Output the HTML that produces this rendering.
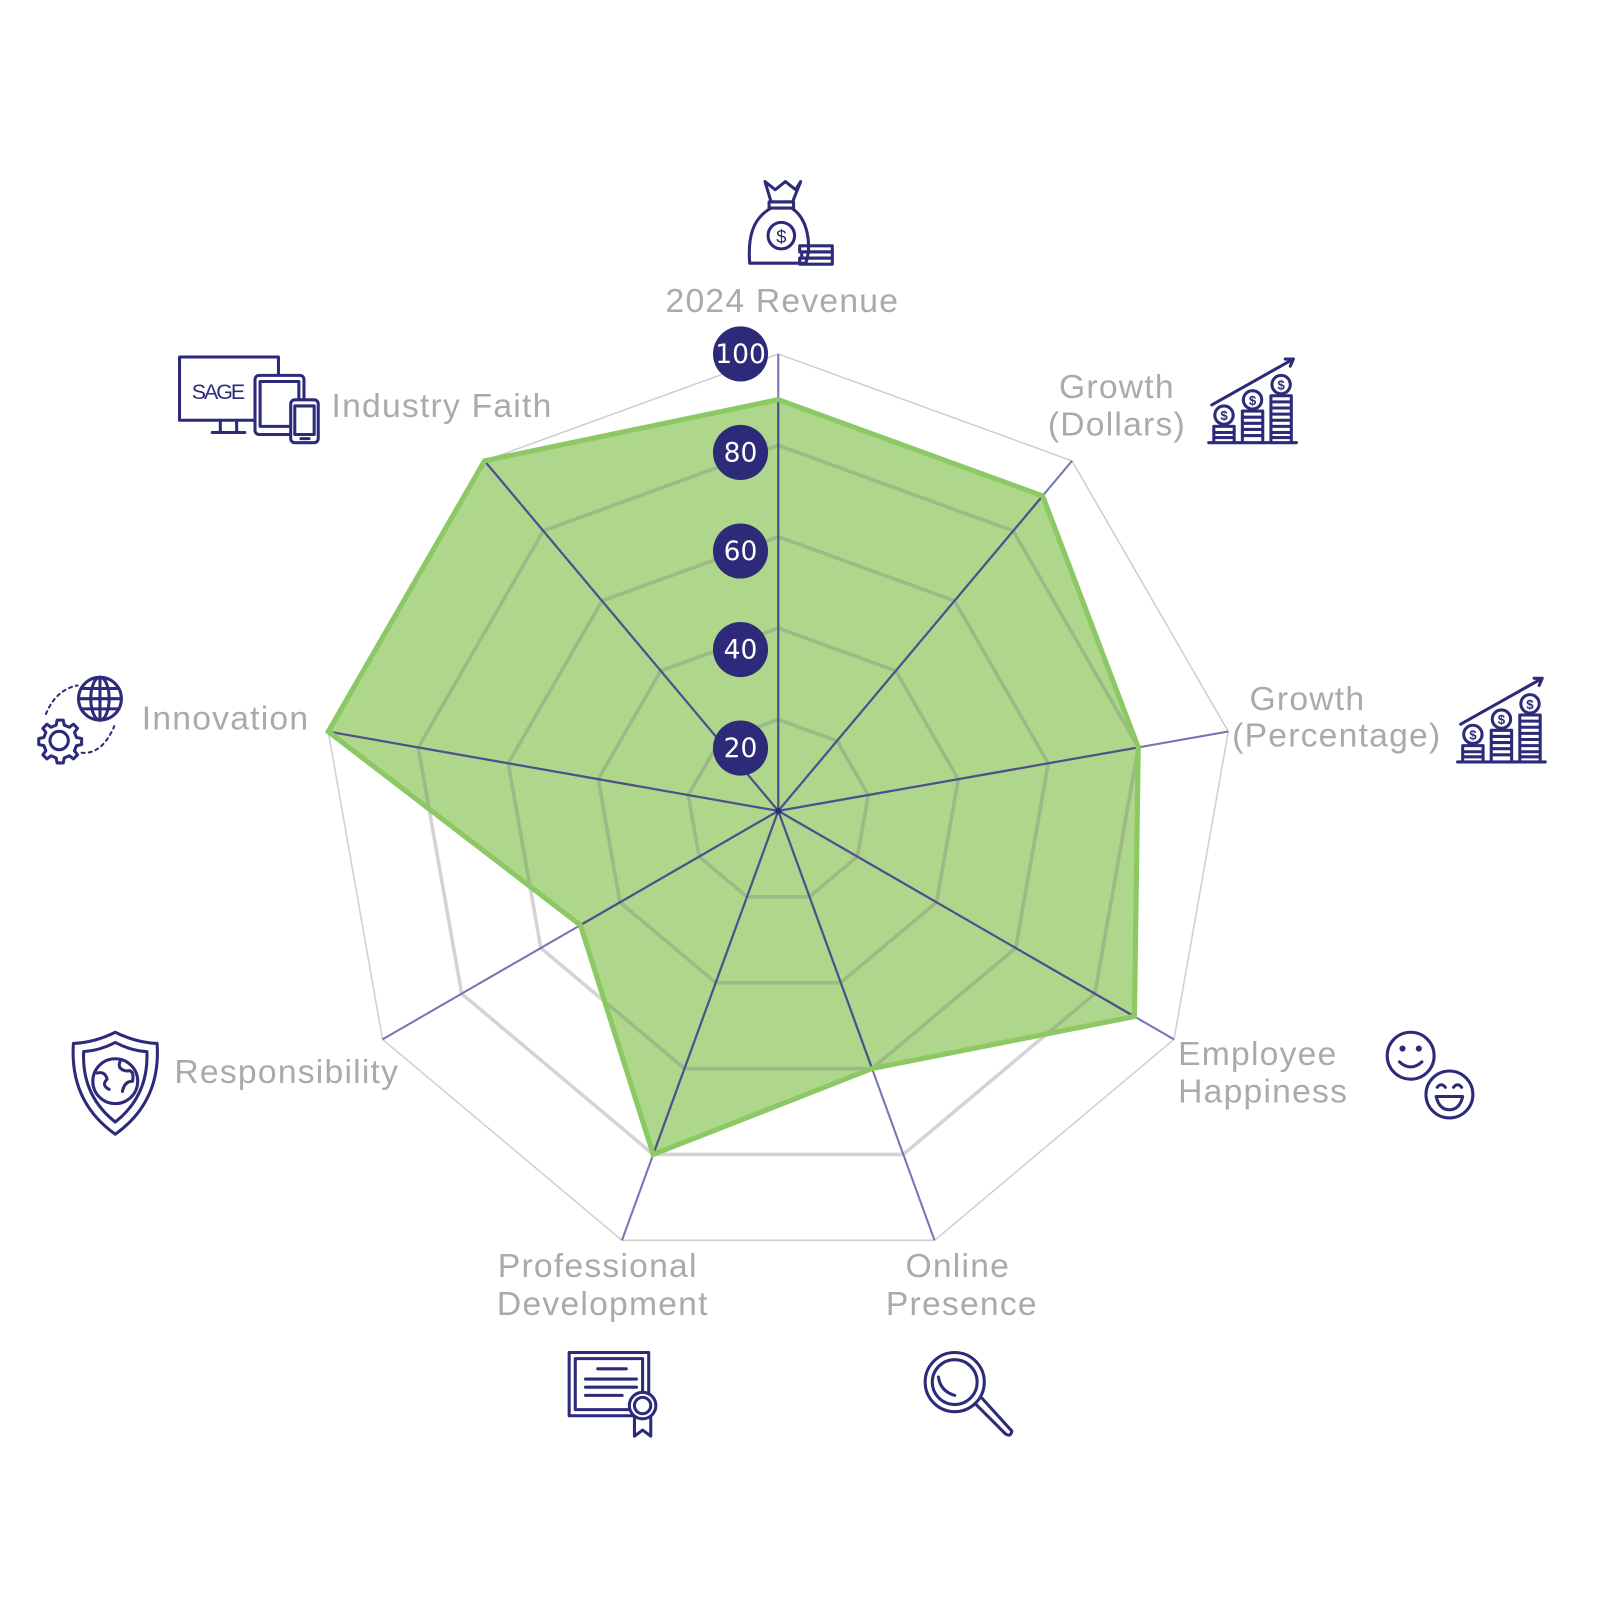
<!DOCTYPE html>
<html><head><meta charset="utf-8"><style>
html,body{margin:0;padding:0;background:#fff;}
svg{display:block}
.l{font-family:"Liberation Sans",sans-serif;font-size:33px;fill:#aaaaaa;letter-spacing:1.2px;}
.b{font-family:"DejaVu Sans","Liberation Sans",sans-serif;font-size:26px;fill:#fff;text-anchor:middle;}
.ic{fill:none;stroke:#2e2a7a;stroke-width:3;stroke-linejoin:round;stroke-linecap:round}
.d{font-family:"Liberation Sans",sans-serif;font-size:13px;font-weight:bold;fill:#2e2a7a;stroke:none;text-anchor:middle}
</style></head><body>
<svg width="1600" height="1600" viewBox="0 0 1600 1600" xmlns="http://www.w3.org/2000/svg">
<g transform="scale(1.02)">
<g id="grid"></g>
<text class="l" x="767" y="306" text-anchor="middle">2024 Revenue</text>
<text class="l" x="1095" y="390" text-anchor="middle">Growth</text>
<text class="l" x="1095" y="427" text-anchor="middle">(Dollars)</text>
<text class="l" x="1225" y="696">Growth</text>
<text class="l" x="1208" y="732">(Percentage)</text>
<text class="l" x="1155" y="1044">Employee</text>
<text class="l" x="1155" y="1081">Happiness</text>
<text class="l" x="939" y="1252" text-anchor="middle">Online</text>
<text class="l" x="943" y="1289" text-anchor="middle">Presence</text>
<text class="l" x="586" y="1252" text-anchor="middle">Professional</text>
<text class="l" x="591" y="1289" text-anchor="middle">Development</text>
<text class="l" x="171" y="1062">Responsibility</text>
<text class="l" x="139" y="715">Innovation</text>
<text class="l" x="325" y="409">Industry Faith</text>

<!-- money bag -->
<g class="ic">
<path d="M750 178 L760 186 L770 178 L780 186 L785 178 L777 198 L756 198 Z"/>
<rect x="754" y="198" width="24" height="6"/>
<path d="M756 204 C738 214 733 232 735 258 L790 258 C796 240 792 214 776 204"/>
<circle cx="766" cy="231" r="13"/>
<text x="766" y="238" font-size="18" font-family="Liberation Sans" fill="#2e2a7a" stroke="none" text-anchor="middle">$</text>
<rect x="784" y="241" width="32" height="6"/><rect x="786" y="247" width="30" height="6"/><rect x="784" y="253" width="32" height="6"/>
</g>
<!-- growth dollars -->
<g class="ic" id="coins1">
<path d="M1188 397 L1268 352 M1260 352 L1268 352 L1265 359"/>
<circle cx="1200" cy="407" r="9"/><circle cx="1228" cy="392" r="9"/><circle cx="1256" cy="377" r="9"/>
<text class="d" x="1200" y="412">$</text><text class="d" x="1228" y="397">$</text><text class="d" x="1256" y="382">$</text>
<path d="M1190 418h20v16h-20z M1190 424h20 M1190 429h20 M1218 403h20v31h-20z M1218 409h20M1218 415h20M1218 421h20M1218 427h20 M1246 388h20v46h-20z M1246 394h20M1246 400h20M1246 406h20M1246 412h20M1246 418h20M1246 424h20M1246 429h20 M1185 434h86"/>
</g>
<use href="#coins1" transform="translate(244 313)"/>
<!-- smileys -->
<g class="ic">
<circle cx="1383" cy="1035" r="23"/><circle cx="1375" cy="1028" r="1.5"/><circle cx="1391" cy="1028" r="1.5"/>
<path d="M1372 1041 Q1383 1051 1394 1041"/>
<circle cx="1421" cy="1073" r="23"/><path d="M1409 1066 q4 -5 8 0 M1425 1066 q4 -5 8 0 M1408 1075 h26 q-3 13 -13 13 q-10 0 -13 -13"/>
</g>
<!-- magnifier -->
<g class="ic">
<circle cx="936" cy="1355" r="29"/><circle cx="936" cy="1355" r="22"/>
<path d="M920 1350 q2 14 16 18"/>
<path d="M956 1376 L986 1406 q5 3 6 -3 L962 1370"/>
</g>
<!-- certificate -->
<g class="ic">
<rect x="558" y="1326" width="78" height="62"/><rect x="564" y="1332" width="66" height="50"/>
<path d="M586 1342h28 M574 1352h50 M574 1360h50 M574 1368h36"/>
<circle cx="630" cy="1378" r="13" fill="#fff"/><circle cx="630" cy="1378" r="8"/><path d="M622 1390 v18 l8 -6 l8 6 v-18"/>
</g>
<!-- shield -->
<g class="ic">
<path d="M113 1012 Q93 1022 72 1023 Q68 1080 113 1112 Q158 1080 154 1023 Q133 1022 113 1012 Z"/>
<path d="M113 1022 Q98 1030 82 1031 Q80 1074 113 1100 Q146 1074 144 1031 Q128 1030 113 1022 Z"/>
<circle cx="113" cy="1060" r="22"/>
<path d="M95 1052 q8 -2 10 6 q-6 6 2 10 M118 1040 q-4 8 6 10 q8 -2 6 10 q-8 0 -10 10"/>
</g>
<!-- globe + gear -->
<g class="ic">
<circle cx="98" cy="685" r="21"/><ellipse cx="98" cy="685" rx="9" ry="21"/><path d="M77 685h42 M80 675h36 M80 695h36 M98 664v42"/>
<circle cx="58" cy="726" r="9"/>
<path d="M58 706 l4 0 l1 5 l5 2 l4 -3 l4 4 l-3 4 l2 5 l5 1 v6 l-5 1 l-2 5 l3 4 l-4 4 l-4 -3 l-5 2 l-1 5 h-6 l-1 -5 l-5 -2 l-4 3 l-4 -4 l3 -4 l-2 -5 l-5 -1 v-6 l5 -1 l2 -5 l-3 -4 l4 -4 l4 3 l5 -2 l1 -5 z"/>
<path d="M45 700 Q55 676 76 672 M80 738 Q100 740 112 712" stroke-dasharray="3 4" stroke-width="2"/>
</g>
<!-- SAGE devices -->
<g class="ic">
<rect x="176" y="350" width="97" height="62"/>
<text x="188" y="391" font-size="21" font-family="Liberation Sans" fill="#2e2a7a" stroke="none" letter-spacing="-2">SAGE</text>
<path d="M216 412 v12 M232 412 v12 M208 424 h32"/>
<rect x="250" y="368" width="48" height="58" rx="4" fill="#fff"/><rect x="255" y="374" width="38" height="44"/>
<rect x="285" y="392" width="27" height="42" rx="4" fill="#fff"/><path d="M289 398h19v28h-19z M295 430h8"/>
</g>
</g>
</svg>
<script>
(function(){
var cx=763,cy=795,R=448,N=9,ns="http://www.w3.org/2000/svg";
var g=document.getElementById('grid');
function pt(i,f){var a=i*40*Math.PI/180;return [cx+R*f*Math.sin(a),cy-R*f*Math.cos(a)];}
function poly(f){var s=[];for(var i=0;i<N;i++){s.push(pt(i,f).join(','));}return s.join(' ');}
function el(t,a){var e=document.createElementNS(ns,t);for(var k in a)e.setAttribute(k,a[k]);g.appendChild(e);return e;}
el('polygon',{points:poly(1),fill:'none',stroke:'#cfcfcf','stroke-width':1.5});
for(var i=0;i<N;i++){var p=pt(i,1);el('line',{x1:cx,y1:cy,x2:p[0],y2:p[1],stroke:'#7a72b2','stroke-width':2});}
var v=[0.9,0.9,0.8,0.9,0.6,0.8,0.5,1.0,1.0],s=[];
for(var i=0;i<N;i++)s.push(pt(i,v[i]).join(','));
el('polygon',{points:s.join(' '),fill:'#aed78b',stroke:'none'});
[0.2,0.4,0.6,0.8].forEach(function(f){el('polygon',{points:poly(f),fill:'none',stroke:'rgba(120,120,120,0.32)','stroke-width':3.5});});
for(var i=0;i<N;i++){var p=pt(i,v[i]);el('line',{x1:cx,y1:cy,x2:p[0],y2:p[1],stroke:'#4e4f8c','stroke-width':2.2});}
el('polygon',{points:s.join(' '),fill:'none',stroke:'#8cc863','stroke-width':5,'stroke-linejoin':'miter'});
el('circle',{cx:cx,cy:cy,r:3,fill:'#2e2a7a'});
[100,80,60,40,20].forEach(function(n,k){var y=347+k*96.6;el('circle',{cx:726,cy:y,r:27,fill:'#2e2a7a'});var t=el('text',{x:726,y:y+9,'class':'b'});t.textContent=n;});
})();
</script>
</body></html>
